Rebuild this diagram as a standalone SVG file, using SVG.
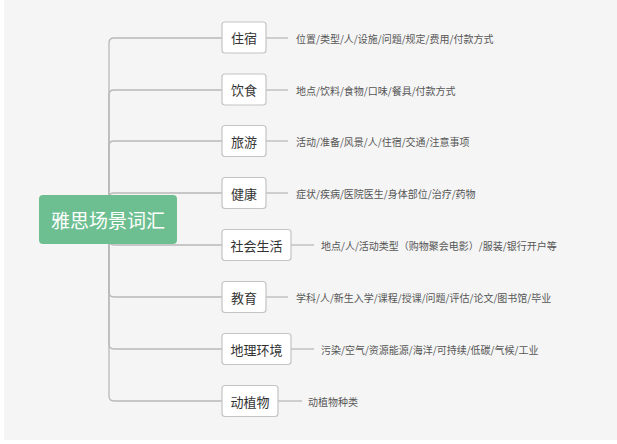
<svg xmlns="http://www.w3.org/2000/svg" width="617" height="444" viewBox="0 0 617 444">
<style>
.node rect{fill:#ffffff;stroke:#c4c4c4;stroke-width:1.2}
.node text{font-family:"Noto Sans CJK SC","Noto Sans",sans-serif;font-size:13px;fill:#333333;dominant-baseline:central;text-anchor:middle}
.leaf{font-family:"Noto Sans CJK SC","Noto Sans",sans-serif;font-size:10px;fill:#555555;dominant-baseline:central}
.conn path,.conn line{fill:none;stroke:#b8b8b8;stroke-width:1.3}
#root rect{fill:#6dbf91}
#root text{font-family:"Noto Sans CJK SC","Noto Sans",sans-serif;font-size:19px;fill:#ffffff;dominant-baseline:central;text-anchor:middle}
</style>
<rect x="0" y="0" width="617" height="444" fill="#ffffff"/>
<rect x="4" y="0" width="613" height="440" fill="#f5f5f5"/>
<g class="conn" id="connectors">
<path d="M109 219 V43 Q109 38 114 38 H222"/>
<path d="M109 219 V95 Q109 90 114 90 H222"/>
<path d="M109 219 V146 Q109 141 114 141 H222"/>
<path d="M109 219 V198 Q109 193 114 193 H222"/>
<path d="M109 219 V240 Q109 245 114 245 H222"/>
<path d="M109 219 V292 Q109 297 114 297 H222"/>
<path d="M109 219 V344 Q109 349 114 349 H222"/>
<path d="M109 219 V396 Q109 401 114 401 H222"/>
<line x1="266" y1="38" x2="288" y2="38"/>
<line x1="266" y1="90" x2="288" y2="90"/>
<line x1="266" y1="141" x2="288" y2="141"/>
<line x1="266" y1="193" x2="288" y2="193"/>
<line x1="291" y1="245" x2="314" y2="245"/>
<line x1="266" y1="297" x2="288" y2="297"/>
<line x1="291" y1="349" x2="314" y2="349"/>
<line x1="278" y1="401" x2="302" y2="401"/>
</g>
<g id="root"><rect x="39" y="195" width="138" height="49" rx="4"/><text x="108" y="219.5">雅思场景词汇</text></g>
<g class="node" id="n1"><rect x="222" y="22" width="44" height="31" rx="3"/><text x="244" y="37.5">住宿</text></g>
<g class="node" id="n2"><rect x="222" y="74" width="44" height="31" rx="3"/><text x="244" y="89.5">饮食</text></g>
<g class="node" id="n3"><rect x="222" y="125.5" width="44" height="31" rx="3"/><text x="244" y="141">旅游</text></g>
<g class="node" id="n4"><rect x="222" y="177.5" width="44" height="31" rx="3"/><text x="244" y="193">健康</text></g>
<g class="node" id="n5"><rect x="222" y="229.5" width="69" height="31" rx="3"/><text x="256.5" y="245">社会生活</text></g>
<g class="node" id="n6"><rect x="222" y="281.5" width="44" height="31" rx="3"/><text x="244" y="297">教育</text></g>
<g class="node" id="n7"><rect x="222" y="333.5" width="69" height="31" rx="3"/><text x="256.5" y="349">地理环境</text></g>
<g class="node" id="n8"><rect x="222" y="385.5" width="56" height="31" rx="3"/><text x="250" y="401">动植物</text></g>
<g id="leaves">
<text class="leaf" x="296" y="38">位置/类型/人/设施/问题/规定/费用/付款方式</text>
<text class="leaf" x="296" y="90">地点/饮料/食物/口味/餐具/付款方式</text>
<text class="leaf" x="296" y="141">活动/准备/风景/人/住宿/交通/注意事项</text>
<text class="leaf" x="296" y="193">症状/疾病/医院医生/身体部位/治疗/药物</text>
<text class="leaf" x="321" y="245">地点/人/活动类型（购物聚会电影）/服装/银行开户等</text>
<text class="leaf" x="296" y="297">学科/人/新生入学/课程/授课/问题/评估/论文/图书馆/毕业</text>
<text class="leaf" x="321" y="349">污染/空气/资源能源/海洋/可持续/低碳/气候/工业</text>
<text class="leaf" x="308" y="401">动植物种类</text>
</g>
</svg>
